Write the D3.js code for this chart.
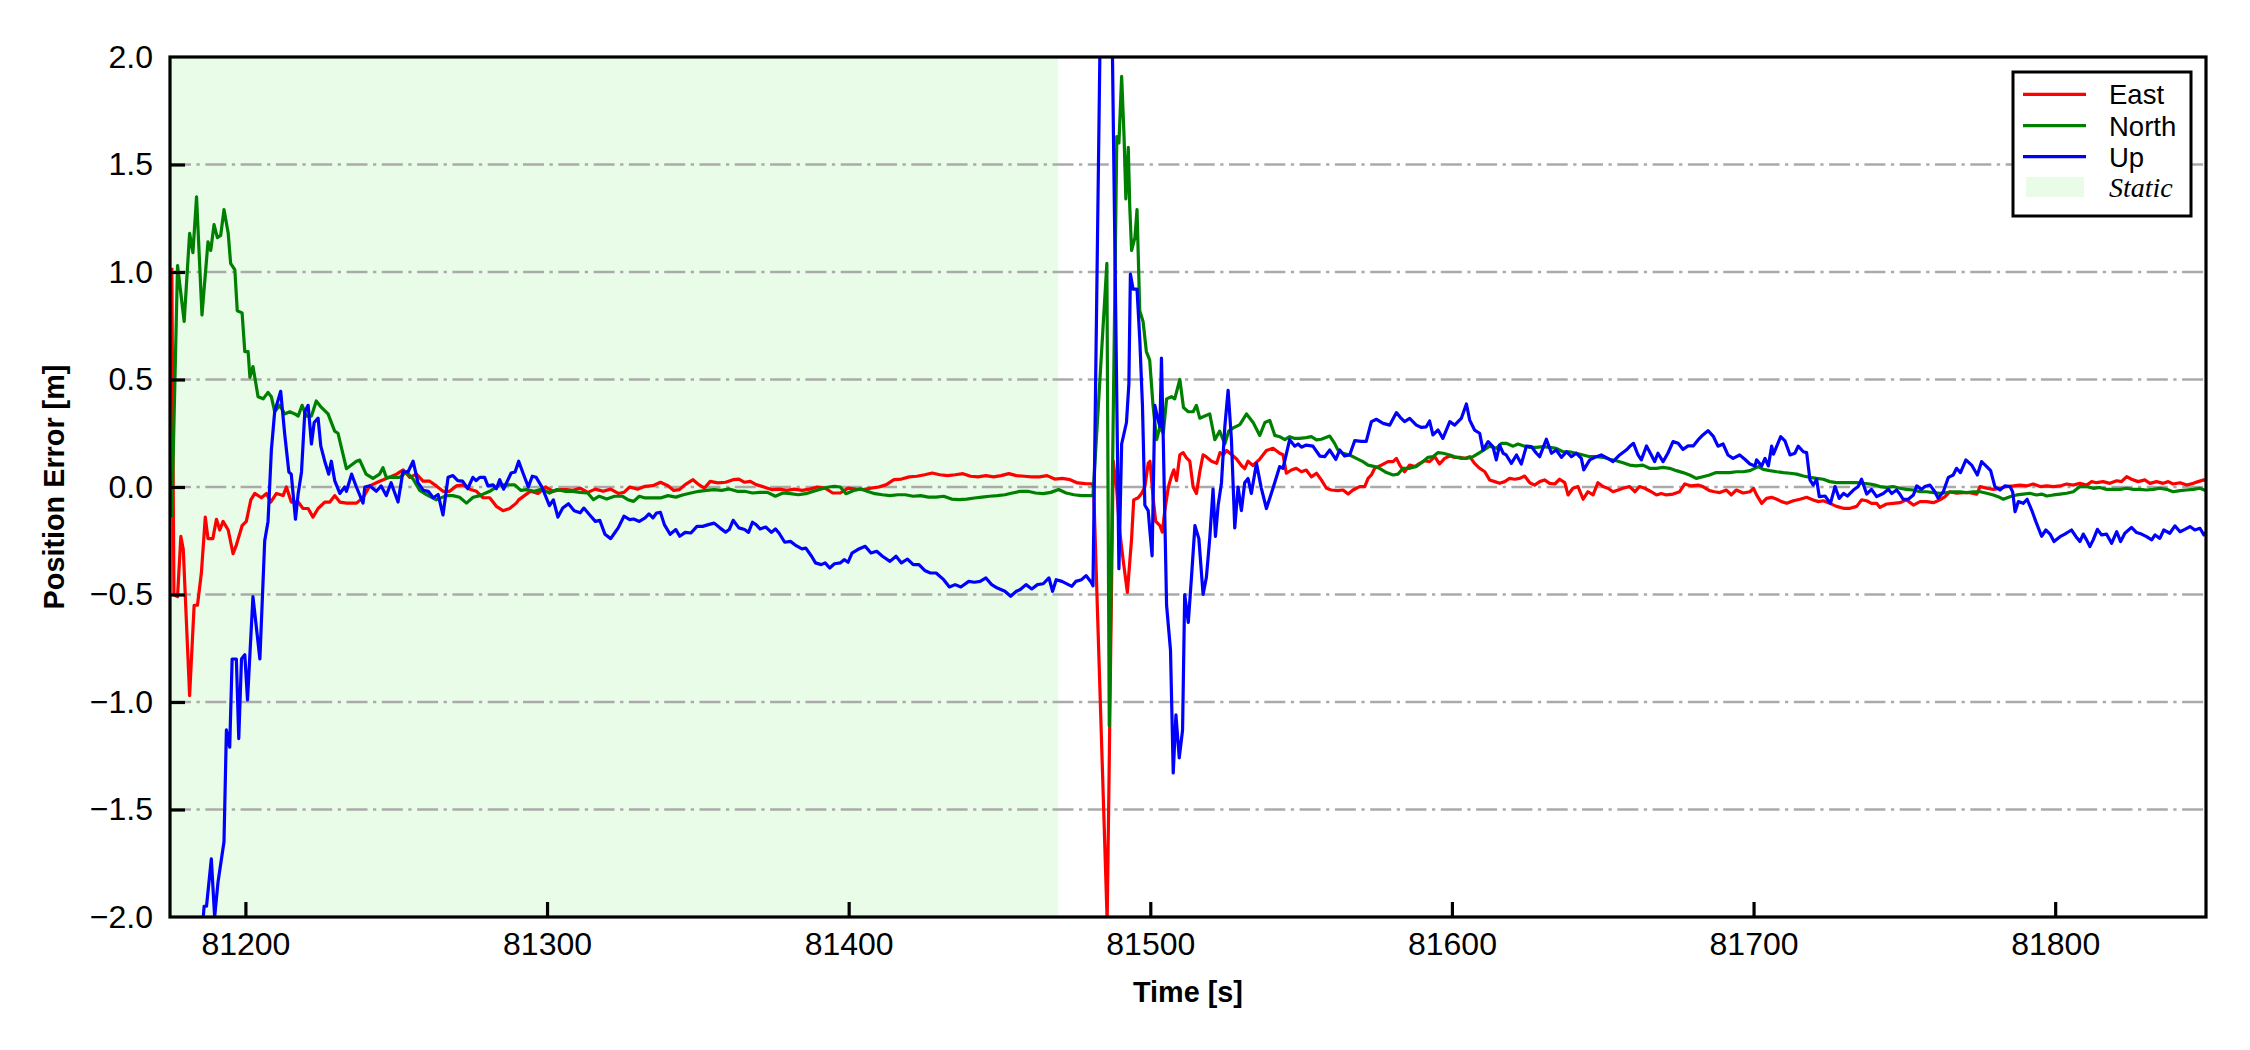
<!DOCTYPE html>
<html><head><meta charset="utf-8">
<script src="https://cdn.jsdelivr.net/npm/d3@7"></script>
<style>body{margin:0;background:#fff}</style>
</head><body><svg id="c" width="2250" height="1050"></svg>
<script>
// ---------------- data ----------------
const seriesNames = ["East", "North", "Up"];
const seriesColors = ["#ff0000", "#008000", "#0000ff"];
const staticLabel = "Static";
const staticRange = [81175, 81469.5];
const xDomain = [81175, 81850];
const yDomain = [-2, 2];
const xTicks = [81200, 81300, 81400, 81500, 81600, 81700, 81800];
const yTicks = [-2, -1.5, -1, -0.5, 0, 0.5, 1, 1.5, 2];
const xLabel = "Time [s]";
const yLabel = "Position Error [m]";

const east = [
[81175.6,1.02],[81176.3,-0.50],[81177.5,-0.51],[81178.6,-0.23],[81179.4,-0.29],[81181.5,-0.97],[81183.0,-0.55],[81184.1,-0.55],
[81185.4,-0.40],[81186.7,-0.14],[81187.6,-0.24],[81189.2,-0.24],[81190.4,-0.15],[81191.5,-0.20],[81192.6,-0.16],[81194.3,-0.20],
[81195.9,-0.31],[81197.0,-0.27],[81198.9,-0.18],[81200.3,-0.16],[81201.8,-0.06],[81203.1,-0.03],[81205.3,-0.05],[81207.0,-0.03],
[81208.4,-0.07],[81210.3,-0.03],[81212.5,-0.04],[81213.6,0.00],[81215.2,-0.07],[81217.5,-0.07],[81219.1,-0.10],[81220.8,-0.10],
[81222.4,-0.14],[81224.1,-0.10],[81226.3,-0.07],[81228.0,-0.07],[81229.6,-0.04],[81231.3,-0.07],[81233.5,-0.075],[81236.8,-0.075],
[81239.0,-0.05],[81241.2,0.005],[81244.5,0.027],[81247.8,0.045],[81250.1,0.06],[81252.3,0.08],[81254.5,0.045],[81256.7,0.06],
[81258.9,0.027],[81261.1,0.027],[81263.3,0.005],[81265.5,-0.02],[81267.7,-0.02],[81269.9,0.005],[81272.2,0.01],[81274.4,-0.01],
[81276.6,-0.02],[81278.8,-0.05],[81281.0,-0.05],[81283.2,-0.09],[81285.4,-0.11],[81287.6,-0.10],[81289.8,-0.075],[81290.6,-0.06],
[81292.5,-0.04],[81294.5,-0.02],[81297.0,-0.03],[81299.5,0.0],[81302.1,-0.02],[81304.6,-0.012],[81306.5,-0.012],[81308.4,-0.016],
[81311.0,-0.005],[81313.5,-0.025],[81316.0,-0.01],[81318.6,-0.02],[81321.1,-0.01],[81323.6,-0.03],[81325.5,-0.025],[81327.4,0.0],
[81330.0,-0.01],[81332.5,0.003],[81335.1,0.006],[81337.6,0.022],[81340.1,0.006],[81342.0,-0.016],[81343.9,-0.012],[81345.8,0.011],
[81348.4,0.034],[81350.3,0.011],[81352.2,-0.005],[81354.1,0.026],[81356.6,0.019],[81359.2,0.022],[81361.7,0.034],[81363.6,0.037],
[81365.5,0.022],[81367.4,0.026],[81369.3,0.011],[81371.9,0.0],[81374.4,-0.012],[81377.0,-0.01],[81379.5,-0.016],[81382.0,-0.01],
[81384.6,-0.016],[81387.1,-0.01],[81389.6,0.0],[81392.2,-0.005],[81394.7,-0.028],[81397.2,-0.028],[81399.8,-0.005],[81402.3,-0.01],
[81404.9,-0.012],[81407.4,-0.005],[81410.0,0.0],[81412.5,0.011],[81415.0,0.034],[81417.5,0.037],[81420.1,0.047],[81422.6,0.05],
[81425.2,0.057],[81427.7,0.065],[81430.2,0.057],[81432.8,0.053],[81435.3,0.057],[81437.9,0.062],[81440.4,0.05],[81442.9,0.047],
[81445.5,0.053],[81448.0,0.047],[81450.5,0.053],[81453.1,0.062],[81455.6,0.053],[81458.2,0.05],[81460.7,0.047],[81463.2,0.047],
[81465.8,0.053],[81468.3,0.037],[81470.8,0.04],[81473.4,0.034],[81475.9,0.019],[81478.5,0.016],[81480.7,0.015],[81481.2,0.0],
[81485.7,-2.02],[81487.7,0.12],[81488.8,0.0],[81489.9,-0.21],[81491.0,-0.34],[81492.4,-0.49],[81493.8,-0.24],[81494.5,-0.06],
[81496.0,-0.05],[81497.1,-0.03],[81498.2,0.0],[81499.3,0.11],[81499.9,0.12],[81501.0,-0.06],[81501.8,-0.16],[81503.2,-0.18],
[81504.0,-0.21],[81504.8,-0.11],[81506.0,0.0],[81507.0,0.05],[81507.8,0.08],[81508.7,0.03],[81509.8,0.15],[81510.9,0.16],
[81512.0,0.135],[81513.1,0.12],[81514.2,0.0],[81515.3,-0.03],[81516.4,0.07],[81517.5,0.15],[81518.6,0.14],[81520.3,0.12],
[81522.0,0.11],[81523.1,0.16],[81524.2,0.15],[81525.3,0.17],[81527.0,0.15],[81528.6,0.13],[81530.2,0.10],[81531.3,0.085],
[81532.4,0.12],[81534.0,0.10],[81536.3,0.13],[81538.5,0.17],[81540.7,0.18],[81542.9,0.157],[81544.0,0.15],[81545.1,0.064],
[81546.8,0.079],[81548.4,0.087],[81550.1,0.071],[81551.7,0.079],[81553.4,0.047],[81555.1,0.064],[81556.7,0.033],[81558.4,-0.006],
[81560.0,-0.014],[81562.2,-0.017],[81563.9,-0.014],[81565.6,-0.033],[81567.2,-0.014],[81569.4,0.002],[81571.1,0.002],[81572.2,0.04],
[81573.3,0.056],[81574.4,0.087],[81576.6,0.102],[81578.8,0.118],[81580.5,0.118],[81581.6,0.133],[81582.7,0.102],[81584.3,0.071],
[81586.0,0.102],[81587.7,0.095],[81589.3,0.11],[81591.0,0.122],[81592.6,0.118],[81594.3,0.141],[81595.9,0.107],[81597.6,0.133],
[81599.3,0.144],[81600.9,0.138],[81602.6,0.138],[81604.2,0.133],[81605.9,0.141],[81607.5,0.11],[81609.2,0.087],[81610.9,0.071],
[81612.5,0.033],[81614.2,0.025],[81615.8,0.017],[81617.5,0.025],[81619.1,0.04],[81620.8,0.036],[81622.5,0.04],[81624.1,0.051],
[81625.8,0.02],[81627.4,0.009],[81629.1,0.025],[81630.7,0.033],[81632.4,0.017],[81634.1,0.014],[81635.7,0.036],[81637.4,0.02],
[81638.5,-0.037],[81640.1,-0.006],[81641.8,0.002],[81643.5,-0.057],[81645.1,-0.022],[81646.8,-0.037],[81648.4,0.02],[81650.1,0.002],
[81651.7,-0.006],[81653.4,-0.022],[81655.1,-0.014],[81656.7,-0.006],[81658.9,0.002],[81660.7,-0.022],[81662.2,0.002],[81663.9,-0.006],
[81666.1,-0.022],[81667.8,-0.037],[81669.4,-0.03],[81671.1,-0.037],[81673.3,-0.033],[81675.5,-0.022],[81677.2,0.014],[81679.4,0.005],
[81681.6,0.009],[81683.2,0.002],[81685.4,-0.017],[81687.1,-0.022],[81688.8,-0.026],[81691.0,-0.014],[81692.6,-0.037],[81694.3,-0.014],
[81696.5,-0.028],[81698.8,-0.022],[81700.0,-0.006],[81701.0,-0.037],[81702.7,-0.076],[81704.3,-0.053],[81706.0,-0.048],[81707.7,-0.057],
[81709.3,-0.068],[81711.0,-0.076],[81713.2,-0.064],[81715.4,-0.057],[81717.6,-0.048],[81719.8,-0.06],[81721.5,-0.068],[81723.1,-0.064],
[81725.3,-0.076],[81727.5,-0.09],[81729.8,-0.099],[81732.0,-0.099],[81734.2,-0.09],[81735.8,-0.06],[81737.5,-0.064],[81739.1,-0.076],
[81740.8,-0.076],[81741.9,-0.095],[81744.1,-0.079],[81746.3,-0.076],[81748.5,-0.073],[81750.7,-0.06],[81753.0,-0.084],[81755.2,-0.068],
[81757.4,-0.068],[81759.6,-0.073],[81761.8,-0.06],[81763.5,-0.045],[81765.1,-0.022],[81767.3,-0.029],[81769.5,-0.026],[81771.7,-0.026],
[81774.0,-0.033],[81775.1,0.002],[81777.3,-0.006],[81779.5,-0.011],[81781.7,-0.006],[81783.9,0.002],[81786.1,0.005],[81788.3,0.009],
[81790.5,0.005],[81792.7,0.014],[81795.0,0.002],[81797.2,0.005],[81799.4,0.002],[81801.6,0.005],[81803.8,0.014],[81806.0,0.009],
[81808.2,0.017],[81810.4,0.009],[81812.1,0.025],[81813.7,0.02],[81815.9,0.025],[81818.1,0.017],[81820.4,0.029],[81822.0,0.025],
[81823.7,0.048],[81825.3,0.036],[81827.5,0.025],[81829.7,0.033],[81831.4,0.017],[81833.6,0.025],[81835.8,0.017],[81837.5,0.025],
[81839.1,0.014],[81841.4,0.02],[81843.6,0.009],[81845.8,0.017],[81847.4,0.025],[81849.3,0.033],[81850.0,0.03]
];

const north = [
[81175.6,-0.14],[81177.5,1.03],[81179.7,0.77],[81181.5,1.18],[81182.6,1.09],[81183.8,1.35],[81185.6,0.80],[81187.6,1.14],
[81188.5,1.10],[81189.6,1.22],[81190.7,1.16],[81191.8,1.17],[81192.9,1.29],[81194.3,1.18],[81195.1,1.04],[81196.5,1.01],
[81197.3,0.82],[81198.9,0.81],[81199.8,0.63],[81200.9,0.63],[81201.5,0.51],[81202.5,0.56],[81204.2,0.42],[81205.9,0.41],
[81207.5,0.44],[81208.6,0.42],[81209.7,0.35],[81211.4,0.38],[81213.0,0.34],[81214.7,0.35],[81216.4,0.34],[81217.5,0.33],
[81218.8,0.38],[81220.2,0.33],[81221.9,0.33],[81223.5,0.40],[81225.2,0.37],[81227.4,0.34],[81229.6,0.26],[81230.7,0.25],
[81232.9,0.12],[81233.5,0.085],[81236.8,0.12],[81237.9,0.125],[81240.0,0.06],[81242.3,0.04],[81244.5,0.06],[81245.6,0.09],
[81246.7,0.045],[81249.0,0.045],[81251.2,0.045],[81253.4,0.07],[81255.6,0.037],[81257.8,-0.016],[81260.0,-0.035],[81263.3,-0.06],
[81266.6,-0.04],[81268.8,-0.04],[81271.0,-0.048],[81273.3,-0.075],[81275.5,-0.048],[81277.7,-0.04],[81281.0,-0.02],[81284.3,0.01],
[81286.8,0.01],[81289.3,0.01],[81291.3,-0.016],[81293.2,-0.012],[81295.7,-0.02],[81298.3,-0.01],[81300.8,-0.028],[81303.3,-0.012],
[81305.9,-0.02],[81308.4,-0.02],[81311.0,-0.025],[81313.5,-0.028],[81315.4,-0.059],[81317.3,-0.043],[81319.8,-0.056],[81322.4,-0.043],
[81324.9,-0.043],[81326.8,-0.059],[81328.7,-0.067],[81330.6,-0.043],[81332.5,-0.051],[81335.1,-0.051],[81337.6,-0.051],[81340.1,-0.04],
[81342.7,-0.047],[81345.2,-0.036],[81347.7,-0.028],[81350.3,-0.02],[81352.8,-0.016],[81355.4,-0.012],[81357.9,-0.016],[81360.4,-0.009],
[81363.0,-0.02],[81365.5,-0.02],[81368.1,-0.028],[81370.6,-0.025],[81373.1,-0.025],[81375.7,-0.043],[81378.2,-0.028],[81380.7,-0.031],
[81383.3,-0.036],[81385.8,-0.031],[81388.4,-0.02],[81390.9,-0.009],[81393.4,0.0],[81395.3,0.003],[81397.2,0.0],[81399.1,-0.031],
[81401.7,-0.016],[81404.2,-0.009],[81406.1,-0.02],[81408.7,-0.031],[81411.2,-0.036],[81413.7,-0.04],[81416.3,-0.036],[81418.8,-0.036],
[81421.4,-0.043],[81423.9,-0.04],[81426.4,-0.047],[81429.0,-0.047],[81431.5,-0.043],[81434.1,-0.056],[81436.6,-0.059],[81439.1,-0.056],
[81441.7,-0.051],[81444.2,-0.047],[81446.7,-0.043],[81449.3,-0.04],[81451.8,-0.036],[81454.3,-0.028],[81456.9,-0.02],[81459.4,-0.02],
[81462.0,-0.028],[81464.5,-0.031],[81467.0,-0.025],[81469.6,-0.012],[81472.1,-0.028],[81474.7,-0.036],[81477.2,-0.04],[81481.0,-0.04],
[81485.6,1.04],[81486.4,-1.11],[81488.9,1.63],[81489.6,1.60],[81490.5,1.91],[81491.3,1.63],[81491.9,1.34],[81492.7,1.58],
[81493.2,1.30],[81493.8,1.10],[81494.9,1.16],[81495.6,1.29],[81496.5,0.82],[81497.6,0.77],[81498.7,0.63],[81499.8,0.59],
[81500.9,0.38],[81502.1,0.22],[81503.2,0.28],[81504.3,0.25],[81505.4,0.41],[81507.0,0.42],[81508.1,0.41],[81509.8,0.50],
[81511.0,0.37],[81512.6,0.35],[81514.2,0.35],[81515.3,0.38],[81516.4,0.32],[81518.1,0.33],[81519.7,0.34],[81521.4,0.22],
[81523.0,0.26],[81524.7,0.20],[81526.0,0.26],[81527.5,0.275],[81529.7,0.29],[81531.9,0.34],[81534.1,0.30],[81536.3,0.24],
[81538.0,0.30],[81539.6,0.31],[81541.3,0.24],[81542.9,0.234],[81544.6,0.22],[81546.2,0.234],[81547.9,0.226],[81549.5,0.226],
[81551.7,0.23],[81553.4,0.234],[81555.1,0.219],[81556.7,0.222],[81558.4,0.231],[81559.5,0.237],[81561.1,0.203],[81562.2,0.172],
[81563.9,0.157],[81566.1,0.149],[81568.3,0.133],[81570.5,0.118],[81572.2,0.102],[81574.4,0.095],[81576.0,0.087],[81578.3,0.067],
[81580.5,0.056],[81582.1,0.06],[81583.8,0.087],[81586.0,0.087],[81588.2,0.095],[81589.9,0.113],[81592.1,0.138],[81593.7,0.141],
[81595.4,0.16],[81597.1,0.157],[81599.3,0.149],[81600.9,0.141],[81603.1,0.133],[81604.8,0.133],[81607.0,0.141],[81609.2,0.16],
[81610.9,0.175],[81612.5,0.19],[81614.7,0.18],[81616.4,0.203],[81618.0,0.203],[81620.3,0.19],[81621.9,0.2],[81624.1,0.19],
[81625.8,0.184],[81628.0,0.184],[81630.2,0.188],[81632.4,0.184],[81634.6,0.18],[81636.8,0.164],[81639.0,0.164],[81641.2,0.157],
[81643.5,0.149],[81645.7,0.141],[81647.9,0.141],[81650.1,0.138],[81652.3,0.129],[81654.5,0.122],[81656.7,0.113],[81658.9,0.102],
[81661.1,0.098],[81663.3,0.102],[81665.5,0.087],[81667.8,0.087],[81670.0,0.091],[81672.2,0.087],[81674.4,0.076],[81676.6,0.067],
[81678.8,0.056],[81681.0,0.040],[81683.2,0.048],[81685.4,0.056],[81687.6,0.067],[81689.9,0.067],[81692.1,0.067],[81694.3,0.071],
[81696.5,0.071],[81698.8,0.076],[81701.6,0.095],[81703.2,0.082],[81705.4,0.076],[81707.7,0.071],[81709.9,0.067],[81712.1,0.064],
[81714.3,0.06],[81716.5,0.051],[81718.7,0.045],[81720.9,0.04],[81723.1,0.036],[81725.3,0.025],[81727.5,0.02],[81729.8,0.02],
[81732.0,0.02],[81734.2,0.02],[81736.4,0.017],[81738.6,0.014],[81740.3,0.009],[81741.9,0.002],[81744.1,-0.002],[81746.3,0.002],
[81748.5,-0.006],[81750.7,-0.011],[81753.0,-0.014],[81755.2,-0.022],[81757.4,-0.022],[81759.6,-0.026],[81761.8,-0.029],[81764.0,-0.026],
[81766.2,-0.022],[81768.4,-0.022],[81770.6,-0.026],[81772.8,-0.022],[81775.1,-0.022],[81777.3,-0.029],[81779.5,-0.037],[81781.1,-0.045],
[81782.8,-0.057],[81785.0,-0.045],[81787.2,-0.037],[81789.4,-0.033],[81791.6,-0.029],[81793.8,-0.037],[81795.5,-0.033],[81797.2,-0.042],
[81799.4,-0.037],[81801.6,-0.033],[81803.8,-0.029],[81806.0,-0.022],[81808.2,0.002],[81810.4,0.002],[81812.6,-0.006],[81814.8,-0.002],
[81817.0,-0.011],[81819.3,-0.011],[81821.5,-0.011],[81823.7,-0.006],[81825.9,-0.011],[81828.1,-0.011],[81830.3,-0.014],[81832.5,-0.011],
[81834.7,-0.006],[81836.9,-0.011],[81839.1,-0.022],[81841.4,-0.017],[81843.6,-0.014],[81845.8,-0.011],[81848.0,-0.006],[81850.0,-0.017]
];

const up = [
[81175.0,-4.5],[81180.0,-3.2],[81184.0,-2.4],[81186.3,-1.95],[81187.1,-1.95],[81188.7,-1.73],[81189.8,-2.0],[81190.9,-1.84],
[81192.9,-1.65],[81193.7,-1.13],[81194.8,-1.21],[81195.6,-0.80],[81197.0,-0.80],[81197.8,-1.17],[81198.7,-0.80],[81199.8,-0.78],
[81200.7,-0.99],[81202.5,-0.51],[81204.8,-0.80],[81206.4,-0.25],[81207.5,-0.16],[81208.6,0.17],[81209.7,0.35],[81211.7,0.445],
[81213.0,0.25],[81214.4,0.07],[81215.2,0.06],[81216.6,-0.15],[81217.5,-0.03],[81218.6,0.07],[81219.7,0.35],[81220.8,0.38],
[81221.9,0.20],[81222.8,0.30],[81224.1,0.32],[81225.0,0.19],[81226.3,0.12],[81227.6,0.06],[81228.5,0.12],[81229.6,0.03],
[81231.3,-0.03],[81232.9,0.0],[81233.5,-0.02],[81235.2,0.06],[81236.8,0.0],[81239.0,-0.075],[81239.6,0.0],[81241.3,0.005],
[81243.4,-0.02],[81245.0,0.005],[81246.7,-0.04],[81248.3,0.02],[81250.6,-0.07],[81252.2,0.07],[81253.9,0.07],[81255.6,0.12],
[81257.2,0.02],[81259.0,-0.016],[81260.6,-0.02],[81262.3,-0.05],[81263.9,-0.035],[81265.5,-0.13],[81267.2,0.045],[81268.8,0.053],
[81270.4,0.03],[81272.0,0.027],[81273.7,-0.008],[81275.4,0.045],[81276.5,0.03],[81277.7,0.045],[81279.3,0.045],[81280.4,0.005],
[81282.1,0.01],[81283.2,-0.008],[81284.3,0.034],[81285.6,-0.01],[81288.1,0.065],[81289.4,0.07],[81290.6,0.12],[81291.9,0.07],
[81293.8,0.0],[81295.1,0.05],[81296.4,0.045],[81298.3,0.0],[81300.8,-0.087],[81302.1,-0.06],[81303.6,-0.14],[81305.2,-0.098],
[81307.1,-0.078],[81309.0,-0.11],[81311.0,-0.12],[81312.2,-0.098],[81314.1,-0.129],[81316.0,-0.16],[81317.5,-0.155],[81319.2,-0.22],
[81321.1,-0.24],[81322.4,-0.214],[81323.6,-0.19],[81325.5,-0.136],[81327.4,-0.152],[81328.7,-0.149],[81330.6,-0.16],[81332.5,-0.144],
[81333.8,-0.125],[81335.1,-0.144],[81336.3,-0.121],[81337.6,-0.118],[81338.9,-0.175],[81340.8,-0.22],[81342.7,-0.198],[81344.0,-0.229],
[81345.8,-0.211],[81347.7,-0.214],[81349.7,-0.183],[81351.6,-0.183],[81353.5,-0.175],[81355.4,-0.168],[81357.3,-0.19],[81359.2,-0.21],
[81360.4,-0.198],[81361.7,-0.155],[81363.6,-0.19],[81365.5,-0.198],[81366.8,-0.211],[81368.1,-0.164],[81369.3,-0.175],[81370.6,-0.195],
[81372.5,-0.186],[81374.4,-0.211],[81375.7,-0.195],[81376.9,-0.214],[81378.8,-0.257],[81380.7,-0.253],[81382.6,-0.273],[81384.5,-0.288],
[81385.8,-0.284],[81387.7,-0.322],[81389.0,-0.353],[81390.9,-0.361],[81392.2,-0.353],[81393.7,-0.377],[81395.3,-0.357],[81397.2,-0.353],
[81398.5,-0.338],[81399.8,-0.35],[81401.1,-0.307],[81403.0,-0.291],[81405.5,-0.276],[81407.4,-0.307],[81409.3,-0.299],[81411.2,-0.322],
[81413.7,-0.346],[81415.7,-0.322],[81417.5,-0.353],[81419.5,-0.335],[81421.4,-0.361],[81423.3,-0.361],[81425.2,-0.388],[81427.1,-0.4],
[81429.0,-0.4],[81431.5,-0.431],[81433.4,-0.465],[81435.3,-0.454],[81437.2,-0.465],[81439.8,-0.439],[81441.7,-0.443],[81443.6,-0.439],
[81445.5,-0.423],[81447.4,-0.454],[81449.3,-0.47],[81451.8,-0.485],[81453.7,-0.508],[81455.6,-0.485],[81456.9,-0.477],[81458.8,-0.454],
[81460.7,-0.474],[81462.6,-0.454],[81464.5,-0.45],[81466.4,-0.423],[81467.6,-0.485],[81468.8,-0.431],[81470.7,-0.439],[81474.0,-0.462],
[81475.3,-0.439],[81477.2,-0.431],[81478.7,-0.412],[81480.4,-0.443],[81481.0,-0.46],[81485.4,4.3],[81489.6,-0.38],[81490.5,0.2],
[81492.1,0.30],[81492.9,0.48],[81493.4,0.99],[81494.3,0.92],[81495.6,0.92],[81496.5,0.69],[81497.4,0.38],[81498.2,-0.085],
[81499.3,-0.11],[81499.9,-0.21],[81500.6,-0.32],[81501.5,0.38],[81502.3,0.33],[81503.2,0.28],[81503.7,0.60],[81504.3,0.22],
[81505.4,-0.55],[81506.7,-0.76],[81507.6,-1.33],[81508.5,-1.06],[81509.6,-1.26],[81510.7,-1.13],[81511.4,-0.5],[81512.6,-0.63],
[81513.7,-0.41],[81514.8,-0.18],[81516.1,-0.24],[81517.5,-0.5],[81518.6,-0.42],[81519.7,-0.24],[81520.8,-0.01],[81521.6,-0.23],
[81522.5,-0.085],[81523.6,0.02],[81524.7,0.28],[81525.8,0.45],[81526.9,0.22],[81528.0,-0.19],[81529.1,0.0],[81530.2,-0.11],
[81531.3,0.02],[81532.4,0.04],[81533.5,-0.03],[81535.2,0.11],[81536.8,-0.005],[81538.5,-0.10],[81540.7,-0.005],[81542.9,0.095],
[81544.0,0.087],[81546.2,0.22],[81547.9,0.19],[81549.0,0.2],[81550.1,0.185],[81551.7,0.195],[81553.9,0.19],[81556.2,0.144],
[81557.8,0.141],[81559.5,0.172],[81561.5,0.128],[81562.8,0.172],[81564.4,0.144],[81566.1,0.149],[81567.8,0.216],[81570.0,0.212],
[81571.6,0.212],[81573.3,0.304],[81575.0,0.315],[81577.2,0.296],[81579.4,0.288],[81581.6,0.346],[81583.2,0.319],[81584.3,0.304],
[81586.0,0.319],[81588.2,0.288],[81589.9,0.277],[81591.5,0.28],[81592.6,0.307],[81593.7,0.242],[81595.4,0.265],[81597.0,0.226],
[81599.3,0.304],[81600.9,0.288],[81603.1,0.319],[81604.8,0.386],[81605.9,0.311],[81607.5,0.265],[81609.2,0.25],[81610.3,0.172],
[81612.0,0.211],[81613.6,0.188],[81614.7,0.126],[81615.8,0.195],[81617.0,0.157],[81618.0,0.149],[81619.7,0.11],[81621.4,0.149],
[81623.0,0.107],[81624.7,0.19],[81626.3,0.188],[81628.0,0.157],[81629.1,0.141],[81631.3,0.222],[81633.0,0.157],[81634.6,0.172],
[81636.3,0.138],[81638.0,0.164],[81639.6,0.141],[81641.2,0.157],[81642.9,0.133],[81643.7,0.08],[81645.7,0.126],[81647.9,0.141],
[81649.5,0.149],[81651.7,0.133],[81653.4,0.118],[81655.6,0.149],[81657.8,0.172],[81658.9,0.188],[81660.2,0.203],[81661.7,0.149],
[81662.8,0.126],[81664.5,0.191],[81666.1,0.149],[81667.2,0.118],[81668.3,0.157],[81670.0,0.118],[81671.6,0.157],[81673.3,0.211],
[81675.0,0.203],[81676.6,0.175],[81678.3,0.191],[81680.0,0.191],[81681.6,0.219],[81683.2,0.242],[81684.9,0.262],[81686.6,0.237],
[81688.2,0.19],[81689.9,0.2],[81691.5,0.149],[81693.2,0.133],[81695.4,0.149],[81697.2,0.128],[81698.8,0.107],[81700.5,0.098],
[81701.0,0.126],[81702.7,0.098],[81703.8,0.133],[81704.9,0.098],[81706.0,0.19],[81706.6,0.153],[81707.7,0.19],[81709.0,0.234],
[81710.4,0.215],[81712.1,0.149],[81713.7,0.157],[81714.8,0.19],[81716.5,0.164],[81717.6,0.160],[81718.7,0.033],[81719.8,0.009],
[81720.9,0.036],[81721.8,-0.045],[81723.7,-0.042],[81725.5,-0.076],[81727.0,0.002],[81728.4,-0.053],[81729.8,-0.03],[81731.1,-0.042],
[81733.1,-0.014],[81734.7,0.002],[81735.8,0.036],[81737.5,-0.033],[81739.1,-0.011],[81740.8,-0.045],[81743.0,-0.03],[81744.7,-0.011],
[81745.8,-0.03],[81747.4,-0.014],[81748.5,-0.033],[81749.6,-0.057],[81751.3,-0.057],[81753.0,-0.037],[81754.1,0.005],[81755.7,-0.011],
[81756.8,0.002],[81758.5,0.009],[81760.1,-0.022],[81761.2,-0.053],[81762.9,-0.022],[81764.6,0.045],[81766.2,0.056],[81767.3,0.087],
[81768.6,0.067],[81770.4,0.126],[81772.3,0.102],[81774.2,0.056],[81775.6,0.118],[81777.3,0.095],[81778.6,0.076],[81780.0,0.002],
[81781.7,-0.014],[81783.3,0.005],[81785.0,0.002],[81785.9,-0.022],[81786.7,-0.115],[81787.8,-0.068],[81789.4,-0.076],[81790.7,-0.057],
[81792.2,-0.107],[81793.6,-0.161],[81795.5,-0.229],[81796.9,-0.2],[81798.3,-0.219],[81799.6,-0.254],[81801.6,-0.231],[81803.2,-0.219],
[81805.4,-0.2],[81806.9,-0.231],[81808.2,-0.254],[81809.3,-0.219],[81810.4,-0.246],[81811.5,-0.277],[81812.6,-0.246],[81814.0,-0.197],
[81815.4,-0.223],[81817.0,-0.219],[81818.7,-0.262],[81820.4,-0.208],[81821.7,-0.254],[81823.1,-0.215],[81825.3,-0.188],[81827.0,-0.212],
[81828.6,-0.219],[81830.3,-0.231],[81832.0,-0.246],[81833.1,-0.223],[81834.7,-0.239],[81836.0,-0.2],[81838.0,-0.215],[81839.7,-0.181],
[81841.4,-0.208],[81843.0,-0.197],[81844.7,-0.184],[81846.3,-0.2],[81848.0,-0.192],[81849.3,-0.223],[81850.0,-0.21]
];

// ---------------- drawing ----------------
const series = [east, north, up];
const PL = 170, PT = 57, PR = 2206, PB = 917;
const FONT = "'Liberation Sans', Arial, sans-serif";

const svg = d3.select("#c");
svg.append("rect").attr("width", 2250).attr("height", 1050).attr("fill", "#fff");

const x = d3.scaleLinear().domain(xDomain).range([PL, PR]);
const y = d3.scaleLinear().domain(yDomain).range([PB, PT]);

svg.append("defs").append("clipPath").attr("id", "plotclip")
  .append("rect").attr("x", PL).attr("y", PT).attr("width", PR - PL).attr("height", PB - PT);

const plot = svg.append("g").attr("clip-path", "url(#plotclip)");

// static band
plot.append("rect")
  .attr("x", x(staticRange[0])).attr("y", PT)
  .attr("width", x(staticRange[1]) - x(staticRange[0])).attr("height", PB - PT)
  .attr("fill", "#e8fce8");

// horizontal grid
plot.selectAll("line.grid").data(yTicks.filter(v => v > yDomain[0] && v < yDomain[1]))
  .join("line").attr("class", "grid")
  .attr("x1", PL).attr("x2", PR)
  .attr("y1", d => y(d)).attr("y2", d => y(d))
  .attr("stroke", "#aaaaaa").attr("stroke-width", 2.6)
  .attr("stroke-dasharray", "21,5.5,3.3,5.5");

// lines
const line = d3.line().x(d => x(d[0])).y(d => y(d[1]));
series.forEach((s, i) => {
  plot.append("path").datum(s)
    .attr("d", line)
    .attr("fill", "none")
    .attr("stroke", seriesColors[i])
    .attr("stroke-width", 3.2)
    .attr("stroke-linejoin", "round");
});

// axes
const fmt = d3.format(".1f");
const yAxis = d3.axisLeft(y).tickValues(yTicks).tickFormat(fmt).tickSize(-15).tickPadding(17);
const xAxis = d3.axisBottom(x).tickValues(xTicks).tickFormat(d3.format("d")).tickSize(-15).tickPadding(15);

const gy = svg.append("g").attr("transform", `translate(${PL},0)`).call(yAxis);
const gx = svg.append("g").attr("transform", `translate(0,${PB})`).call(xAxis);
[gx, gy].forEach(g => {
  g.select(".domain").remove();
  g.selectAll(".tick line").attr("stroke", "#000").attr("stroke-width", 3.2);
  g.selectAll(".tick text").attr("font-family", FONT).attr("font-size", 32).attr("fill", "#000");
});
gy.selectAll(".tick line").filter(d => d === yDomain[0] || d === yDomain[1]).remove();

// frame
svg.append("rect").attr("x", PL).attr("y", PT).attr("width", PR - PL).attr("height", PB - PT)
  .attr("fill", "none").attr("stroke", "#000").attr("stroke-width", 3.2);

// axis labels
svg.append("text").attr("x", (PL + PR) / 2).attr("y", 1002)
  .attr("text-anchor", "middle").attr("font-family", FONT).attr("font-weight", "bold")
  .attr("font-size", 28.8).text(xLabel);
svg.append("text").attr("transform", `translate(64,${(PT + PB) / 2}) rotate(-90)`)
  .attr("text-anchor", "middle").attr("font-family", FONT).attr("font-weight", "bold")
  .attr("font-size", 28.8).text(yLabel);

// legend
const lg = svg.append("g");
lg.append("rect").attr("x", 2013).attr("y", 72).attr("width", 178).attr("height", 144)
  .attr("fill", "#fff").attr("stroke", "#000").attr("stroke-width", 3);
const rowY = [94.3, 125.7, 156.7];
seriesNames.forEach((n, i) => {
  lg.append("line").attr("x1", 2023).attr("x2", 2086).attr("y1", rowY[i]).attr("y2", rowY[i])
    .attr("stroke", seriesColors[i]).attr("stroke-width", 3.2);
  lg.append("text").attr("x", 2109).attr("y", rowY[i] + 10)
    .attr("font-family", FONT).attr("font-size", 27.5).text(n);
});
lg.append("rect").attr("x", 2026).attr("y", 177).attr("width", 58).attr("height", 20).attr("fill", "#e8fce8");
lg.append("text").attr("x", 2109).attr("y", 197)
  .attr("font-family", "'Liberation Serif', 'Times New Roman', serif").attr("font-style", "italic")
  .attr("font-size", 28).text(staticLabel);
</script>
</body></html>
